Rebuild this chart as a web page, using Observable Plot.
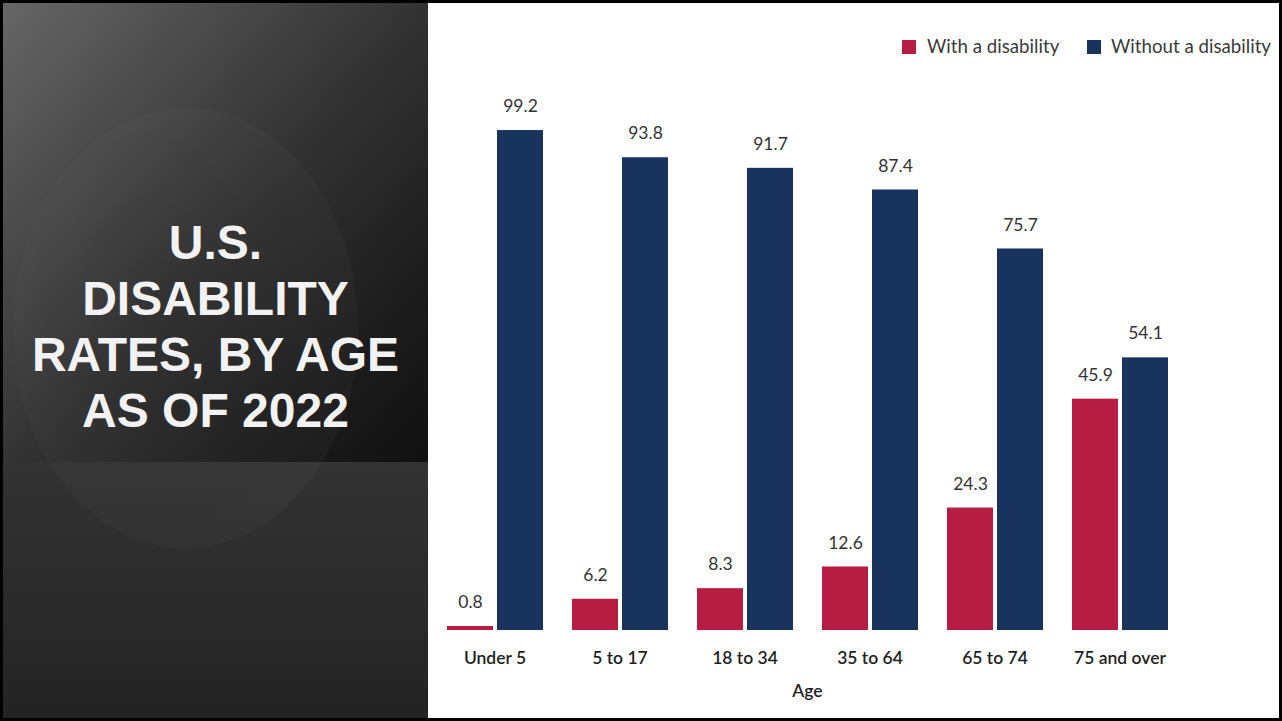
<!DOCTYPE html>
<html>
<head>
<meta charset="utf-8">
<script src="https://cdn.jsdelivr.net/npm/d3@7"></script>
<script src="https://cdn.jsdelivr.net/npm/@observablehq/plot@0.6"></script>
<style>
  html, body { margin: 0; padding: 0; }
  body { width: 1282px; height: 721px; background: #000; position: relative; overflow: hidden; font-family: Lato, "Open Sans", sans-serif; }
  #left { position: absolute; left: 3px; top: 3px; width: 425px; height: 715px; overflow: hidden; background: #262626; }
  #left .top { position: absolute; left: 0; top: 0; width: 425px; height: 459px;
    background: linear-gradient(132deg, #666 0%, #4c4c4c 25%, #333 50%, #1c1c1c 80%, #111 100%); }
  #left .bottom { position: absolute; left: 0; top: 459px; width: 425px; height: 256px;
    background: linear-gradient(180deg, #333 0%, #2b2b2b 50%, #232323 100%); }
  #left .ellipse { position: absolute; left: 10px; top: 105px; width: 345px; height: 440px; border-radius: 50%;
    background: radial-gradient(ellipse at 40% 40%, rgba(255,255,255,0.0) 0%, rgba(255,255,255,0.025) 70%, rgba(255,255,255,0.045) 100%); }
  #title { position: absolute; left: 0; top: 212px; width: 425px; text-align: center; color: #f2f2f2;
    font-family: "Liberation Sans", Arial, sans-serif; font-weight: 700; font-size: 48px; }
  #title div { height: 56px; line-height: 56px; white-space: nowrap; }
  #right { position: absolute; left: 428px; top: 3px; width: 851px; height: 715px; background: #fff; }
  #legend { position: absolute; top: 37px; left: 0; width: 1282px; height: 20px; }
  .sw { position: absolute; top: 3px; width: 14px; height: 14px; }
  .lt { position: absolute; top: -1px; font-size: 18.7px; color: #3a3a3a; white-space: nowrap; line-height: 20px; }
  #chart { position: absolute; left: 430px; top: 0; }
</style>
</head>
<body>
<div id="left">
  <div class="top"></div>
  <div class="bottom"></div>
  <div class="ellipse"></div>
  <div id="title"><div>U.S.</div><div>DISABILITY</div><div>RATES, BY AGE</div><div>AS OF 2022</div></div>
</div>
<div id="right"></div>
<div id="legend"></div>
<div id="chart"></div>
<script>
const ages = ["Under 5", "5 to 17", "18 to 34", "35 to 64", "65 to 74", "75 and over"];
const series = ["With a disability", "Without a disability"];
const withDisability = [0.8, 6.2, 8.3, 12.6, 24.3, 45.9];
const withoutDisability = [99.2, 93.8, 91.7, 87.4, 75.7, 54.1];
const colors = ["#b71c42", "#19335f"];

const data = [];
ages.forEach((a, i) => {
  data.push({age: a, series: series[0], value: withDisability[i]});
  data.push({age: a, series: series[1], value: withoutDisability[i]});
});

// legend
const legend = document.getElementById("legend");
const legendPos = [{sw: 902, tx: 927}, {sw: 1087, tx: 1111}];
series.forEach((s, i) => {
  const sw = document.createElement("div");
  sw.className = "sw"; sw.style.left = legendPos[i].sw + "px"; sw.style.background = colors[i];
  const t = document.createElement("div");
  t.className = "lt"; t.style.left = legendPos[i].tx + "px"; t.textContent = s;
  legend.appendChild(sw); legend.appendChild(t);
});

const chart = Plot.plot({
  width: 849,
  height: 718,
  marginLeft: 2,
  marginRight: 97,
  marginTop: 126,
  marginBottom: 88,
  style: {fontFamily: "Lato, 'Open Sans', sans-serif", background: "transparent", overflow: "visible"},
  fx: {domain: ages, padding: 0, axis: null},
  x: {domain: series, paddingInner: 0.088, paddingOuter: 0.294, axis: null},
  y: {domain: [0, 100], axis: null},
  color: {domain: series, range: colors},
  marks: [
    Plot.axisFx({anchor: "bottom", label: "Age", labelAnchor: "center", labelArrow: "none", tickSize: 0, tickPadding: 21, labelOffset: 66, fontSize: 17.5, fontWeight: 600, fill: "#1e1e1e"}),
    Plot.barY(data, {fx: "age", x: "series", y: "value", fill: "series"}),
    Plot.text(data, {fx: "age", x: "series", y: "value", text: d => d.value.toFixed(1), dy: -24, fontSize: 17.5, fill: "#333"})
  ]
});
document.getElementById("chart").appendChild(chart);
</script>
</body>
</html>
